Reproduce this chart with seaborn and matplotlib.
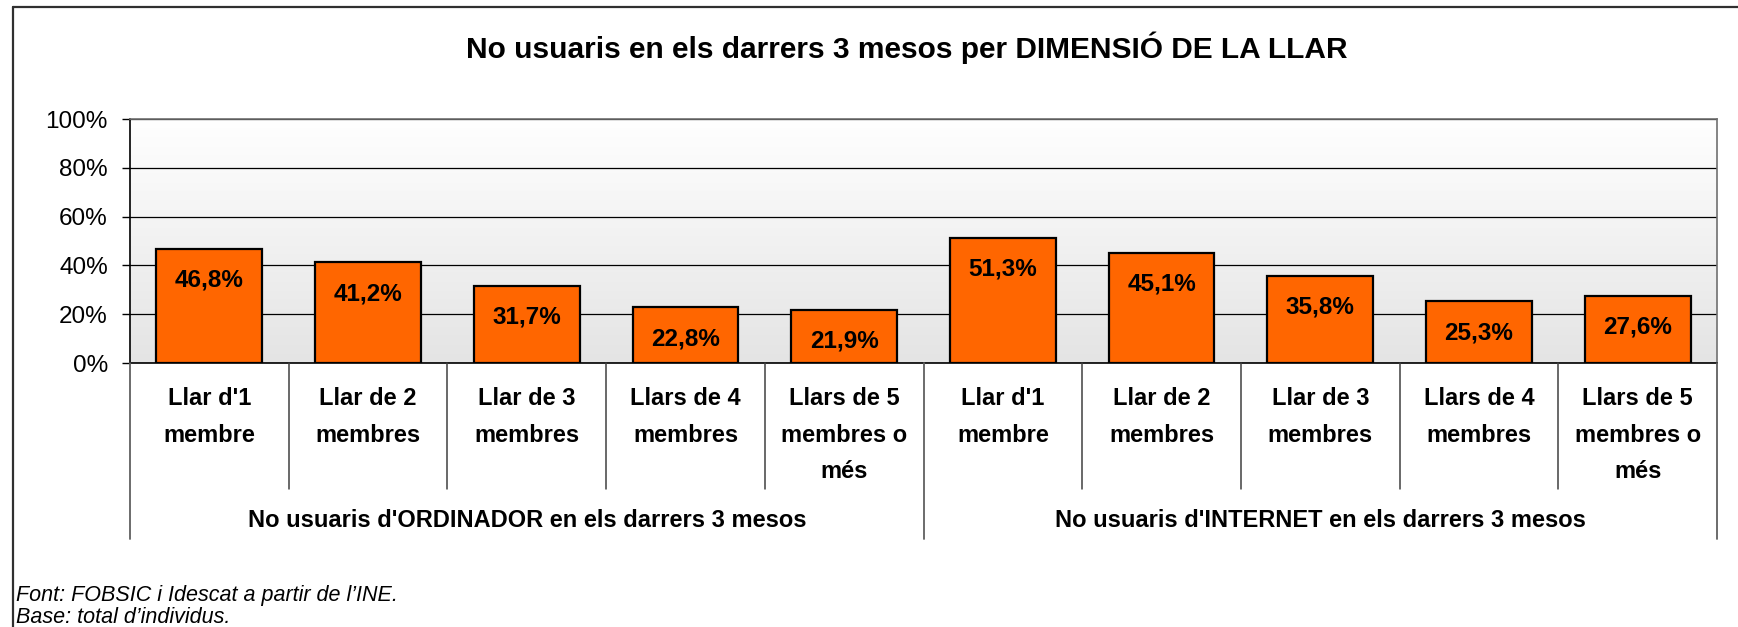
import numpy as np
import pandas as pd
import matplotlib
matplotlib.use("Agg")
import matplotlib.pyplot as plt
import matplotlib.transforms as mtransforms
from matplotlib.lines import Line2D
import seaborn as sns

# -----------------------------------------
# Data
# -----------------------------------------
title = "No usuaris en els darrers 3 mesos per DIMENSIÓ DE LA LLAR"
groups = ["No usuaris d'ORDINADOR en els darrers 3 mesos",
          "No usuaris d'INTERNET en els darrers 3 mesos"]
categories = ["Llar d'1\nmembre", "Llar de 2\nmembres", "Llar de 3\nmembres",
              "Llars de 4\nmembres", "Llars de 5\nmembres o\nmés"]
ordinador = [46.8, 41.2, 31.7, 22.8, 21.9]
internet = [51.3, 45.1, 35.8, 25.3, 27.6]
yticks = [0, 20, 40, 60, 80, 100]
notes = ["Font: FOBSIC i Idescat a partir de l\u2019INE.",
         "Base: total d\u2019individus."]

rows = []
for g, vals in zip(groups, [ordinador, internet]):
    for c, v in zip(categories, vals):
        rows.append({"group": g, "category": c, "value": v, "key": g + "|" + c})
df = pd.DataFrame(rows)

# -----------------------------------------
# Figure
# -----------------------------------------
sns.set_theme(style="white")
plt.rcParams["font.family"] = ["Liberation Sans", "DejaVu Sans"]
plt.rcParams["text.color"] = "black"
plt.rcParams["ytick.color"] = "black"
plt.rcParams["xtick.color"] = "black"
plt.rcParams["axes.labelcolor"] = "black"

W, H = 1738, 627
fig = plt.figure(figsize=(W / 100, H / 100), dpi=100)
fig.patch.set_facecolor("white")


def fy(px):
    return 1 - px / H


ax_left, ax_right, ax_top, ax_bottom = 130, 1717, 119, 363
ax = fig.add_axes([ax_left / W, fy(ax_bottom), (ax_right - ax_left) / W,
                   (ax_bottom - ax_top) / H])

# gradient background of the plot area
grad = np.linspace(0, 1, 256).reshape(-1, 1)
cmap = matplotlib.colors.LinearSegmentedColormap.from_list("bg", ["#ffffff", "#e4e4e4"])
ax.imshow(grad, extent=[0, 1, 0, 1], transform=ax.transAxes, aspect="auto",
          cmap=cmap, zorder=0)

sns.barplot(data=df, x="key", y="value", color="#FF6600", saturation=1,
            edgecolor="black", linewidth=1.6, width=0.667, ax=ax, zorder=3)

ax.set_xlim(-0.5, len(df) - 0.5)
ax.set_ylim(0, 100)
ax.set_yticks(yticks)
ax.set_yticklabels([f"{t}%" for t in yticks], fontsize=17.5, color="black")
ax.tick_params(axis="y", direction="out", length=6, width=1, color="black",
               pad=10, left=True)
ax.tick_params(axis="x", bottom=False, labelbottom=False)
ax.set_xlabel("")
ax.set_ylabel("")
ax.yaxis.grid(True, color="black", linewidth=0.9)
ax.set_axisbelow(True)
for side in ["left", "bottom"]:
    ax.spines[side].set_color("black")
    ax.spines[side].set_linewidth(1.2)
for side in ["top", "right"]:
    ax.spines[side].set_color("#707070")
    ax.spines[side].set_linewidth(1.2)

# value labels inside the bars
for i, v in enumerate(df["value"]):
    ax.annotate(f"{v:.1f}%".replace(".", ","), xy=(i, v), xytext=(0, -38),
                textcoords="offset pixels", ha="center", va="baseline",
                fontsize=17.5, fontweight="bold", color="black", zorder=5)

# two-level category axis
trans = mtransforms.blended_transform_factory(ax.transData, fig.transFigure)
n_cat = len(categories)
for i, c in enumerate(df["category"]):
    for j, line in enumerate(c.split("\n")):
        fig.text(i, fy(405 + j * 36.5), line, transform=trans, ha="center",
                 va="baseline", fontsize=17, fontweight="bold", color="black")
for i in range(len(df) - 1):
    if (i + 1) % n_cat == 0:
        continue
    fig.add_artist(Line2D([i + 0.5, i + 0.5], [fy(ax_bottom), fy(489)],
                          transform=trans, color="#404040", linewidth=1.1))
for k in range(len(groups) + 1):
    xs = k * n_cat - 0.5
    fig.add_artist(Line2D([xs, xs], [fy(ax_bottom), fy(539)],
                          transform=trans, color="#606060", linewidth=1.3))
for k, g in enumerate(groups):
    fig.text(k * n_cat + (n_cat - 1) / 2, fy(527), g, transform=trans,
             ha="center", va="baseline", fontsize=17, fontweight="bold",
             color="black")

# title
fig.text(907 / W, fy(58), title, ha="center", va="baseline", fontsize=21.5,
         fontweight="bold", color="black")

# notes
for j, note in enumerate(notes):
    fig.text(16 / W, fy(601 + j * 22), note, ha="left", va="baseline",
             fontsize=15.5, style="italic", color="black")

# outer chart frame (right and bottom edges are outside the image)
fig.add_artist(Line2D([12.5 / W, 12.5 / W], [fy(6.5), 0], transform=fig.transFigure,
                      color="#303030", linewidth=1.6))
fig.add_artist(Line2D([12.5 / W, 1], [fy(6.5), fy(6.5)], transform=fig.transFigure,
                      color="#303030", linewidth=1.6))

fig.savefig("out.png", dpi=100)
